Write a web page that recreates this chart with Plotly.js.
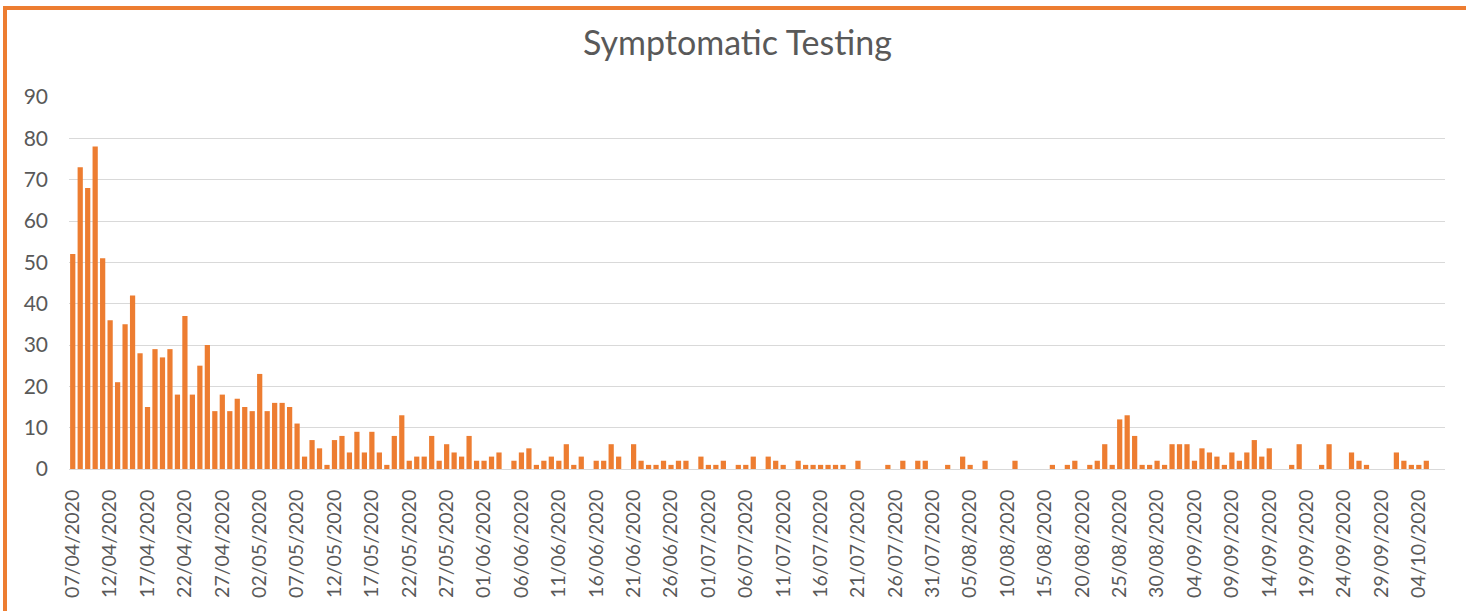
<!DOCTYPE html>
<html>
<head>
<meta charset="utf-8">
<script src="https://cdn.plot.ly/plotly-3.0.1.min.js"></script>
<style>
  html, body { margin: 0; padding: 0; background: #ffffff; overflow: hidden; }
  #chart { position: absolute; left: 0; top: 0; width: 1466px; height: 611px; }
  #frame { position: absolute; left: 3px; top: 6px; width: 2000px; height: 2000px;
           border-left: 4px solid #ED7D31; border-top: 4px solid #ED7D31; pointer-events: none; }
</style>
</head>
<body>
<div id="chart"></div>
<div id="frame"></div>
<script>
// Daily symptomatic tests, starting 07/04/2020 (one value per day)
const startDate = [2020, 4, 7];
const tests = [
  52,73,68,78,51,36,21,35,42,28,
  15,29,27,29,18,37,18,25,30,14,
  18,14,17,15,14,23,14,16,16,15,
  11,3,7,5,1,7,8,4,9,4,
  9,4,1,8,13,2,3,3,8,2,
  6,4,3,8,2,2,3,4,0,2,
  4,5,1,2,3,2,6,1,3,0,
  2,2,6,3,0,6,2,1,1,2,
  1,2,2,0,3,1,1,2,0,1,
  1,3,0,3,2,1,0,2,1,1,
  1,1,1,1,0,2,0,0,0,1,
  0,2,0,2,2,0,0,1,0,3,
  1,0,2,0,0,0,2,0,0,0,
  0,1,0,1,2,0,1,2,6,1,
  12,13,8,1,1,2,1,6,6,6,
  2,5,4,3,1,4,2,4,7,3,
  5,0,0,1,6,0,0,1,6,0,
  0,4,2,1,0,0,0,4,2,1,
  1,2,0,0
];
const tickLabels = [
  "07/04/2020","12/04/2020","17/04/2020","22/04/2020","27/04/2020",
  "02/05/2020","07/05/2020","12/05/2020","17/05/2020","22/05/2020","27/05/2020",
  "01/06/2020","06/06/2020","11/06/2020","16/06/2020","21/06/2020","26/06/2020",
  "01/07/2020","06/07/2020","11/07/2020","16/07/2020","21/07/2020","26/07/2020","31/07/2020",
  "05/08/2020","10/08/2020","15/08/2020","20/08/2020","25/08/2020","30/08/2020",
  "04/09/2020","09/09/2020","14/09/2020","19/09/2020","24/09/2020","29/09/2020",
  "04/10/2020"
];

// Build the category labels (dd/mm/yyyy) for each day
function pad(n) { return (n < 10 ? "0" : "") + n; }
const dates = [];
for (let i = 0; i < tests.length; i++) {
  const d = new Date(Date.UTC(startDate[0], startDate[1] - 1, startDate[2] + i));
  dates.push(pad(d.getUTCDate()) + "/" + pad(d.getUTCMonth() + 1) + "/" + d.getUTCFullYear());
}

const FONT = "Lato, 'Open Sans', sans-serif";
const GREY = "#595959";

const trace = {
  type: "bar",
  x: dates,
  y: tests,
  marker: { color: "#ED7D31", line: { width: 0 } },
  hoverinfo: "x+y"
};

const layout = {
  width: 1466,
  height: 611,
  margin: { l: 69, r: 21, t: 97, b: 142 },
  paper_bgcolor: "rgba(0,0,0,0)",
  plot_bgcolor: "#ffffff",
  showlegend: false,
  bargap: 0.3,
  title: {
    text: "Symptomatic Testing",
    font: { family: FONT, size: 34, color: GREY },
    x: 0.503, xanchor: "center",
    y: 1 - 43 / 611, yref: "container", yanchor: "middle"
  },
  xaxis: {
    type: "category",
    range: [-0.5, tests.length - 0.5],
    tickmode: "array",
    tickvals: tickLabels,
    ticktext: tickLabels,
    tickangle: -90,
    tickfont: { family: FONT, size: 19.5, color: GREY },
    ticks: "",
    ticklabelstandoff: 12,
    showgrid: false,
    showline: true,
    linecolor: "#d9d9d9",
    linewidth: 1,
    zeroline: false,
    fixedrange: true
  },
  yaxis: {
    range: [0, 90],
    dtick: 10,
    tick0: 0,
    tickfont: { family: FONT, size: 21, color: GREY },
    ticks: "",
    ticklabelstandoff: 20,
    gridcolor: "#d9d9d9",
    gridwidth: 1,
    showline: false,
    zeroline: false,
    fixedrange: true
  }
};

Plotly.newPlot("chart", [trace], layout, { displayModeBar: false, staticPlot: true });
</script>
</body>
</html>
